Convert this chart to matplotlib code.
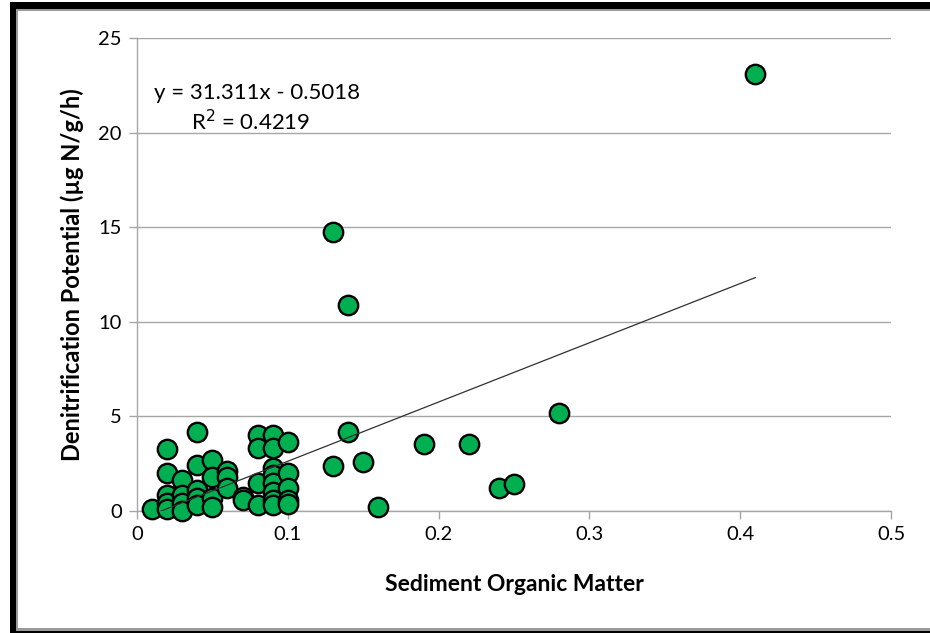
import matplotlib
matplotlib.use("Agg")
import matplotlib.pyplot as plt
from matplotlib.patches import Rectangle
import numpy as np

plt.rcParams['font.family'] = ['Lato', 'DejaVu Sans']

# Sediment organic matter (fraction) and denitrification potential (ug N/g/h)
organic_matter = [
    0.01,
    0.02, 0.02, 0.02, 0.02, 0.02,
    0.03, 0.03, 0.03, 0.03,
    0.04, 0.04, 0.04, 0.04, 0.04,
    0.05, 0.05, 0.05, 0.05,
    0.06, 0.06, 0.06,
    0.07, 0.07,
    0.08, 0.08, 0.08, 0.08,
    0.09, 0.09, 0.09, 0.09, 0.09, 0.09, 0.09, 0.09,
    0.10, 0.10, 0.10, 0.10, 0.10,
    0.13, 0.13, 0.14, 0.14, 0.15, 0.16,
    0.19, 0.22, 0.24, 0.25, 0.28, 0.41,
]
denitrification = [
    0.09,
    3.26, 1.99, 0.85, 0.41, 0.10,
    1.64, 0.85, 0.40, 0.02,
    4.15, 2.43, 1.10, 0.70, 0.30,
    2.69, 1.81, 0.67, 0.20,
    2.10, 1.80, 1.20,
    0.75, 0.58,
    4.00, 3.31, 1.46, 0.32,
    4.00, 3.31, 2.25, 1.90, 1.46, 1.02, 0.58, 0.30,
    3.66, 1.99, 1.20, 0.58, 0.35,
    14.75, 2.39, 10.90, 4.16, 2.60, 0.21,
    3.52, 3.52, 1.23, 1.43, 5.19, 23.10,
]

# Linear trendline coefficients
slope = 31.311
intercept = -0.5018
r_squared = 0.4219

x_ticks = [0, 0.1, 0.2, 0.3, 0.4, 0.5]
x_tick_labels = ["0", "0.1", "0.2", "0.3", "0.4", "0.5"]
y_ticks = [0, 5, 10, 15, 20, 25]

W, H = 930, 633
fig = plt.figure(figsize=(W / 100, H / 100), dpi=100)
fig.patch.set_facecolor("white")

ax = fig.add_axes([137 / W, (H - 511) / H, (891 - 137) / W, (511 - 38) / H])

ax.scatter(organic_matter, denitrification, s=195, facecolor="#00B050",
           edgecolor="black", linewidth=1.7, zorder=3, clip_on=False)

xs = np.array([min(organic_matter), max(organic_matter)])
ax.plot(xs, slope * xs + intercept, color="#303030", linewidth=0.9, zorder=4)

ax.set_xlim(0, 0.5)
ax.set_ylim(0, 25)
ax.set_xticks(x_ticks)
ax.set_xticklabels(x_tick_labels)
ax.set_yticks(y_ticks)

ax.yaxis.grid(True, color="#a6a6a6", linewidth=1.0, zorder=0)
ax.set_axisbelow(True)
for side in ("top", "right"):
    ax.spines[side].set_visible(False)
for side in ("left", "bottom"):
    ax.spines[side].set_color("#a6a6a6")
    ax.spines[side].set_linewidth(1.0)

ax.tick_params(axis="both", colors="#a6a6a6", labelcolor="black",
               labelsize=14.5, length=6, width=1.0, direction="out")
ax.tick_params(axis="x", pad=5)
ax.tick_params(axis="y", pad=5)

ax.set_xlabel("Sediment Organic Matter", fontsize=16.5, fontweight="bold", labelpad=22)
ax.set_ylabel("Denitrification Potential (\u00b5g N/g/h)", fontsize=17,
              fontweight="bold", labelpad=10)

ax.text(0.0795, 22.1, f"y = {slope}x - {abs(intercept)}", fontsize=16,
        ha="center", va="center")
ax.text(0.0755, 20.6, f"R$^2$ = {r_squared}", fontsize=16,
        ha="center", va="center")

# Outer frame: heavy black edge at left/top/bottom with a grey inner line
def px_rect(x0, y0, x1, y1, color):
    fig.add_artist(Rectangle((x0 / W, 1 - y1 / H), (x1 - x0) / W, (y1 - y0) / H,
                             transform=fig.transFigure, facecolor=color,
                             edgecolor="none", zorder=10))

px_rect(10, 2, 16, H, "black")
px_rect(10, 2, W, 9, "black")
px_rect(16, 9, 18, 629, "#9a9a9a")
px_rect(16, 9, W, 11, "#9a9a9a")
px_rect(16, 628, W, 631, "#9a9a9a")
px_rect(10, 631, W, H, "black")

fig.savefig("out.png", dpi=100, facecolor="white")
